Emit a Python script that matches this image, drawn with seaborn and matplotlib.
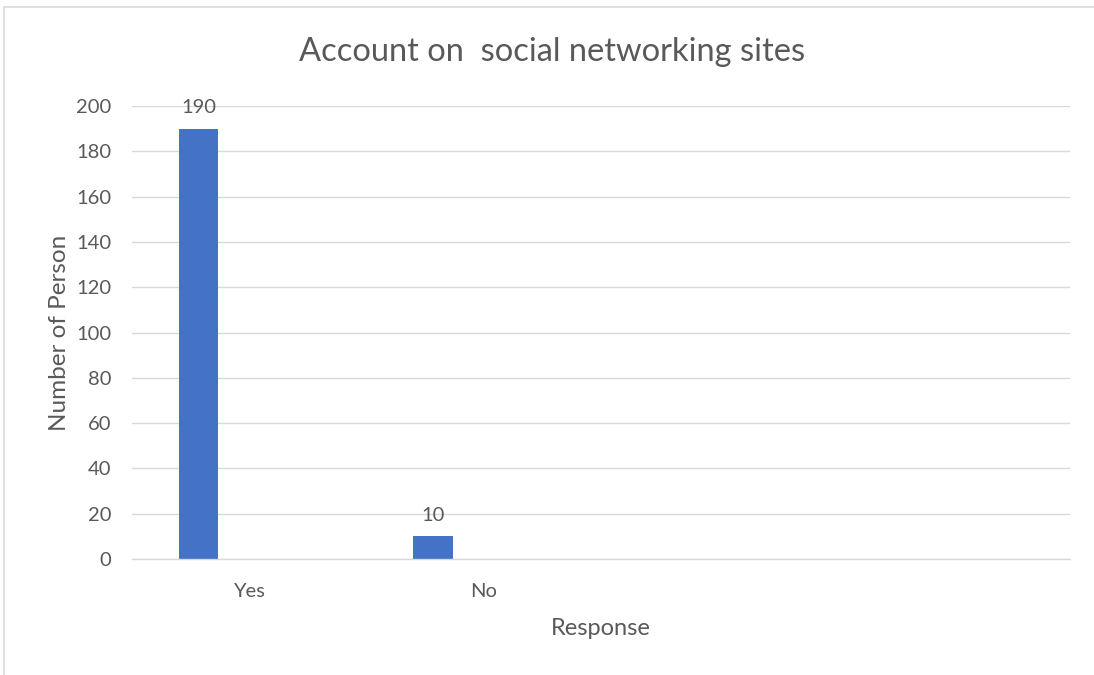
import matplotlib
matplotlib.use("Agg")
import matplotlib.pyplot as plt
import seaborn as sns
import pandas as pd
from matplotlib.patches import Rectangle

# chart data
responses = ["Yes", "No"]
persons = [190, 10]
series_names = ["Series1", "Series2", "Series3"]
y_ticks = [0, 20, 40, 60, 80, 100, 120, 140, 160, 180, 200]

# only the first series holds values, the others are empty columns in the sheet
rows = []
for s in series_names:
    for r, p in zip(responses, persons):
        rows.append({"Response": r, "Series": s, "Persons": p if s == series_names[0] else 0})
df = pd.DataFrame(rows)

sns.set_theme(style="white")
plt.rcParams["font.family"] = ["Lato", "DejaVu Sans"]
text_col = "#595959"
grid_col = "#D9D9D9"

fig = plt.figure(figsize=(10.94, 6.75), dpi=100)
ax = fig.add_axes([132 / 1094, 1 - 559 / 675, (1070 - 132) / 1094, (559 - 106) / 675])

sns.barplot(data=df, x="Response", y="Persons", hue="Series", hue_order=series_names,
            order=responses, palette=["#4472C4", "#ED7D31", "#A5A5A5"],
            width=0.65, gap=0.22, legend=False, ax=ax, errorbar=None,
            saturation=1, linewidth=0)

ax.set_xlim(-0.5, 3.5)
ax.set_ylim(0, 200)
ax.set_yticks(y_ticks)
ax.yaxis.grid(True, color=grid_col, linewidth=1)
ax.set_axisbelow(True)
for side in ["top", "right", "left"]:
    ax.spines[side].set_visible(False)
ax.spines["bottom"].set_color(grid_col)
ax.spines["bottom"].set_linewidth(1)
ax.spines["bottom"].set_zorder(3)
ax.tick_params(axis="both", length=0, labelsize=14.5, colors=text_col)
ax.tick_params(axis="y", pad=15)
ax.tick_params(axis="x", pad=17)

# data labels on the first series only
first = ax.containers[0]
ax.bar_label(first, labels=[f"{v:g}" for v in first.datavalues],
             padding=9, fontsize=14.5, color=text_col)

ax.set_xlabel("Response", fontsize=17, color=text_col, labelpad=13)
ax.set_ylabel("Number of Person", fontsize=17.5, color=text_col, labelpad=4)
fig.text(552 / 1094, 1 - 52 / 675, "Account on  social networking sites",
         ha="center", va="center", fontsize=23.5, color=text_col)

# chart area border (top and left edges visible)
fig.patches.append(Rectangle((4 / 1094, -0.1), 1.2, 1 - 7 / 675 + 0.1,
                             transform=fig.transFigure, fill=False,
                             edgecolor=grid_col, linewidth=1.2))

fig.savefig("out.png", dpi=100, facecolor="white")
